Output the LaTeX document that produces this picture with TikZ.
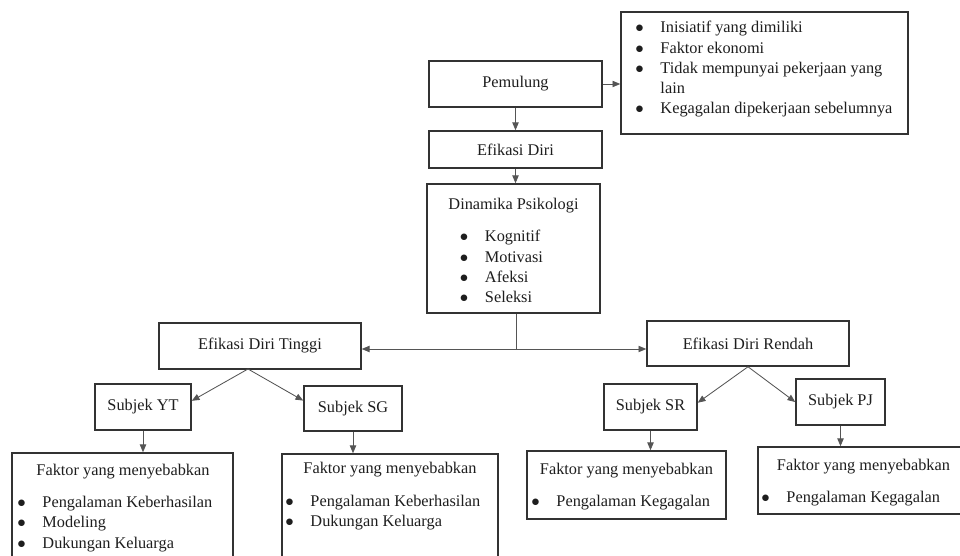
\documentclass[tikz,border=0pt]{standalone}
\usepackage{fontspec}
\setmainfont{Liberation Serif}
\usetikzlibrary{arrows.meta,calc}
\definecolor{ink}{HTML}{1E1E1E}
\definecolor{edge}{HTML}{333333}
\definecolor{wire}{HTML}{555555}
\newcommand{\itm}[1]{\makebox[0.63cm][l]{$\bullet$}#1}
\tikzset{
  every node/.style={font=\fontsize{11.6}{14.4}\selectfont,text=ink},
  box/.style 2 args={draw=edge,line width=1.1pt,inner sep=0pt,
    minimum width=#1*0.025cm,minimum height=#2*0.025cm},
  list/.style={align=left,anchor=north west,inner sep=0pt},
  wire/.style={draw=wire,line width=0.6pt},
  link/.style={wire,-{Triangle[length=5.5pt,width=4.5pt]}},
}

\begin{document}
\begin{tikzpicture}[x=0.025cm,y=-0.025cm]
\useasboundingbox (0,0) rectangle (960,556);
\clip (0,0) rectangle (960,556);
\fill[white] (0,0) rectangle (960,556);

\node[box={173}{46}] (pemulung) at (515.5,84) {Pemulung};
\node[box={287}{122}] (alasan) at (764.5,73) {};
\node[list] (alasanlist) at (635,21) {\itm{Inisiatif yang dimiliki}\\
  \itm{Faktor ekonomi}\\ \itm{Tidak mempunyai pekerjaan yang}\\
  \hspace*{0.63cm}lain\\ \itm{Kegagalan dipekerjaan sebelumnya}};
\node[box={173}{37}] (efikasi) at (515.5,149.5) {Efikasi Diri};
\node[box={173}{129}] (dinamika) at (513.5,248.5) {};
\node (dinamikatitle) at (513.5,206) {Dinamika Psikologi};
\node[list] (dinamikalist) at (459.5,230) {\itm{Kognitif}\\ \itm{Motivasi}\\
  \itm{Afeksi}\\ \itm{Seleksi}};

\node[box={202}{46}] (tinggi) at (260,346) {Efikasi Diri Tinggi};
\node[box={202}{45}] (rendah) at (748,343.5) {Efikasi Diri Rendah};
\node[box={96}{46}] (yt) at (143,407) {Subjek YT};
\node[box={98}{45}] (sg) at (353,408.5) {Subjek SG};
\node[box={93}{46}] (sr) at (650.5,407) {Subjek SR};
\node[box={89}{46}] (pj) at (840.5,402) {Subjek PJ};

\node[box={221}{127}] (ytf) at (122.5,516.5) {};
\node (ytftitle) at (123,472) {Faktor yang menyebabkan};
\node[list] (ytflist) at (17,496) {\itm{Pengalaman Keberhasilan}\\
  \itm{Modeling}\\ \itm{Dukungan Keluarga}};
\node[box={216}{126}] (sgf) at (390,517) {};
\node (sgftitle) at (390,470) {Faktor yang menyebabkan};
\node[list] (sgflist) at (285,495) {\itm{Pengalaman Keberhasilan}\\
  \itm{Dukungan Keluarga}};
\node[box={199}{68}] (srf) at (626.5,485) {};
\node (srftitle) at (626.5,471) {Faktor yang menyebabkan};
\node[list] (srflist) at (531,495) {\itm{Pengalaman Kegagalan}};
\node[box={222}{67}] (pjf) at (869,480.5) {};
\node (pjftitle) at (863.5,467) {Faktor yang menyebabkan};
\node[list] (pjflist) at (761,491) {\itm{Pengalaman Kegagalan}};

\draw[link] (pemulung.east) -- (pemulung.east -| alasan.west);
\draw[link] (pemulung.south) -- (efikasi.north);
\draw[link] (efikasi.south) -- (efikasi.south |- dinamika.north);
\coordinate (split) at (516,349);
\draw[wire] (split |- dinamika.south) -- (split);
\draw[link] (split) -- (split -| tinggi.east);
\draw[link] (split) -- (split -| rendah.west);
\coordinate (tinggifoot) at (248,369);
\draw[link] (tinggifoot) -- ($(yt.north east)!0.37!(yt.south east)$);
\draw[link] (tinggifoot) -- ($(sg.north west)!0.33!(sg.south west)$);
\draw[link] (rendah.south) -- ($(sr.north east)!0.41!(sr.south east)$);
\draw[link] (rendah.south) -- (pj.west);
\draw[link] (yt.south) -- (yt.south |- ytf.north);
\draw[link] (sg.south) -- (sg.south |- sgf.north);
\draw[link] (sr.south) -- (sr.south |- srf.north);
\draw[link] (pj.south) -- (pj.south |- pjf.north);
\end{tikzpicture}
\end{document}
